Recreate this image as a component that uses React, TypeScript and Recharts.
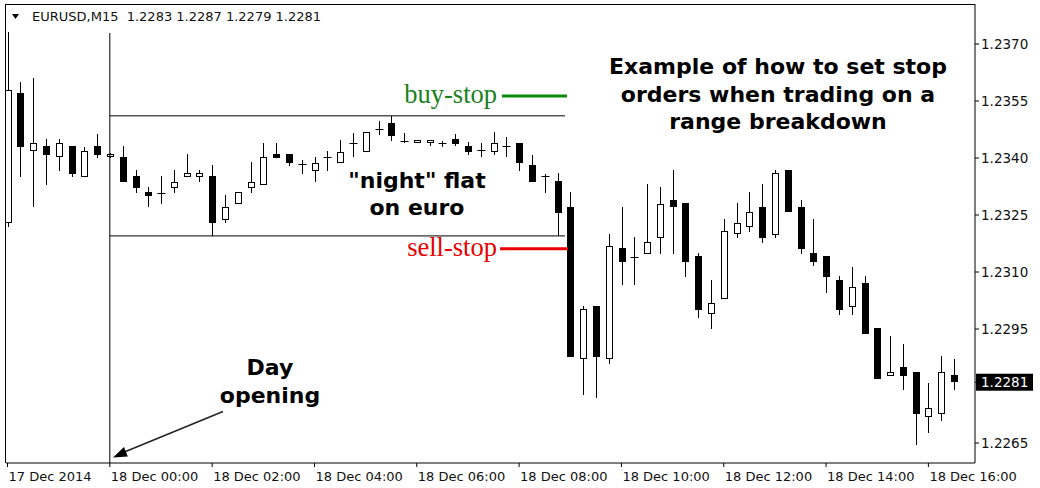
import React from "react";
import { ComposedChart, Bar, XAxis, YAxis, ReferenceLine } from "recharts";

// ---- data (EURUSD M15, 17 Dec 22:00 .. 18 Dec 16:30) ----
const opens = [
  1.23229, 1.23571, 1.23418, 1.23432, 1.23403, 1.23432, 1.2335, 1.23432,
  1.23403, 1.23403, 1.23353, 1.23311, 1.23308, 1.23321, 1.2335, 1.2335,
  1.23353, 1.23237, 1.23279, 1.23321, 1.23329, 1.23411, 1.23411, 1.23384,
  1.23366, 1.23403, 1.23387, 1.23439, 1.23416, 1.23476, 1.23492, 1.23445,
  1.23439, 1.23439, 1.23439, 1.2345, 1.23432, 1.23421, 1.23416, 1.23432,
  1.23439, 1.23382, 1.23353, 1.23339, 1.23271, 1.22871, 1.23011, 1.22871,
  1.23163, 1.23139, 1.23147, 1.23189, 1.23289, 1.23282, 1.23142, 1.22989,
  1.23029, 1.232, 1.23218, 1.23271, 1.23197, 1.23368, 1.23271, 1.2315,
  1.23142, 1.23079, 1.23008, 1.23071, 1.22953, 1.22826, 1.2285, 1.22837,
  1.22718, 1.22726, 1.2283,
];
const highs = [
  1.23732, 1.236, 1.23611, 1.2345, 1.2345, 1.23432, 1.23429, 1.23463,
  1.23413, 1.23432, 1.23368, 1.23324, 1.23353, 1.23368, 1.23411, 1.23368,
  1.23382, 1.23303, 1.23311, 1.23389, 1.23439, 1.23439, 1.23411, 1.23395,
  1.23403, 1.23418, 1.23447, 1.23466, 1.23468, 1.23497, 1.23511, 1.23466,
  1.23447, 1.23447, 1.23445, 1.23463, 1.23442, 1.23439, 1.23468, 1.23455,
  1.23439, 1.23408, 1.23358, 1.23361, 1.23311, 1.23011, 1.23011, 1.232,
  1.23271, 1.23192, 1.23332, 1.23324, 1.23368, 1.23282, 1.2315, 1.23079,
  1.23239, 1.23282, 1.23311, 1.23332, 1.23368, 1.23368, 1.23289, 1.23239,
  1.23142, 1.23089, 1.23113, 1.23089, 1.22953, 1.22932, 1.22911, 1.22837,
  1.22808, 1.22879, 1.2287,
];
const lows = [
  1.23218, 1.2335, 1.23271, 1.23329, 1.23366, 1.2335, 1.2335, 1.234,
  1.234, 1.23337, 1.23308, 1.23271, 1.23279, 1.23308, 1.2335, 1.23337,
  1.23195, 1.23229, 1.23279, 1.23308, 1.23329, 1.234, 1.23379, 1.23358,
  1.23337, 1.23366, 1.23387, 1.23403, 1.23416, 1.23461, 1.23445, 1.23439,
  1.23439, 1.23432, 1.23429, 1.23432, 1.23408, 1.23403, 1.23408, 1.23403,
  1.23366, 1.23337, 1.23308, 1.23195, 1.22876, 1.22776, 1.22768, 1.22858,
  1.23066, 1.23066, 1.23147, 1.23147, 1.23147, 1.23087, 1.22979, 1.2295,
  1.23029, 1.23189, 1.23205, 1.23176, 1.23189, 1.23258, 1.23147, 1.23116,
  1.23045, 1.22987, 1.22987, 1.22937, 1.22818, 1.22826, 1.22789, 1.22645,
  1.22676, 1.22708, 1.2279,
];
const closes = [
  1.23579, 1.23429, 1.23439, 1.23408, 1.23439, 1.23358, 1.23418, 1.23408,
  1.23411, 1.23337, 1.23321, 1.233, 1.23309, 1.23337, 1.23361, 1.23361,
  1.23229, 1.23271, 1.23311, 1.23337, 1.23403, 1.234, 1.23387, 1.23385,
  1.23387, 1.23404, 1.23416, 1.2344, 1.23468, 1.23477, 1.23458, 1.23446,
  1.23447, 1.23447, 1.2344, 1.23437, 1.23416, 1.23422, 1.23439, 1.23433,
  1.23387, 1.23337, 1.23354, 1.23255, 1.22876, 1.23003, 1.22876, 1.23168,
  1.23126, 1.2314, 1.23179, 1.23279, 1.23271, 1.23126, 1.23, 1.23018,
  1.23208, 1.23229, 1.23258, 1.23189, 1.23361, 1.23258, 1.23161, 1.23126,
  1.23087, 1.23, 1.23061, 1.22937, 1.22818, 1.22837, 1.22826, 1.22726,
  1.22742, 1.22837, 1.2281,
];

const xTickIdx = [0, 8, 16, 24, 32, 40, 48, 56, 64, 72];
const xTickLabels = [
  "17 Dec 2014",
  "18 Dec 00:00",
  "18 Dec 02:00",
  "18 Dec 04:00",
  "18 Dec 06:00",
  "18 Dec 08:00",
  "18 Dec 10:00",
  "18 Dec 12:00",
  "18 Dec 14:00",
  "18 Dec 16:00",
];
const yTicks = [1.2265, 1.2281, 1.2295, 1.231, 1.2325, 1.234, 1.2355, 1.237];
const lastPrice = 1.2281;
const headerText = "EURUSD,M15  1.2283 1.2287 1.2279 1.2281";

const dayOpenIdx = 8;
const dayLineTop = 1.23729;
const flatHigh = 1.23511;
const flatLow = 1.23195;
const flatEndIdx = 43.59;
const buyStop = 1.23563;
const sellStop = 1.23161;
const buyStopRange = [38.66, 43.75];
const sellStopRange = [38.51, 43.82];

const yDomain = [1.225974, 1.238053];
const xDomain = [-0.117, 75.645];

const data = opens.map((o, i) => ({
  i,
  o,
  h: highs[i],
  l: lows[i],
  c: closes[i],
  range: [lows[i], highs[i]],
}));

const FONT = "'DejaVu Sans', sans-serif";

const Candle = (props: any) => {
  const { x, y, width, height, payload } = props;
  if (payload == null || x == null) return null;
  const { o, h, l, c } = payload;
  const top = Math.min(y, y + height);
  const hgt = Math.abs(height);
  const k = hgt / (h - l);
  const yOf = (p: number) => top + (h - p) * k;
  const cx = Math.round(x + width / 2) + 0.5;
  const yh = Math.round(yOf(h));
  const yl = Math.round(yOf(l));
  const yo = yOf(o);
  const yc = yOf(c);
  const bTop = Math.round(Math.min(yo, yc));
  const bBot = Math.round(Math.max(yo, yc));
  const parts: any[] = [];
  parts.push(
    <line key="w" x1={cx} x2={cx} y1={yh} y2={Math.max(yl, yh + 1)} stroke="#000" strokeWidth={1} />
  );
  if (Math.abs(yo - yc) < 1.5) {
    parts.push(
      <line key="d" x1={cx - 4} x2={cx + 4} y1={Math.round(yo) + 0.5} y2={Math.round(yo) + 0.5} stroke="#000" strokeWidth={1} />
    );
  } else if (c < o) {
    parts.push(
      <rect key="b" x={cx - 3.5} y={bTop} width={7} height={Math.max(1, bBot - bTop)} fill="#000" />
    );
  } else {
    parts.push(
      <rect key="b" x={cx - 3} y={bTop + 0.5} width={6} height={Math.max(1, bBot - bTop - 1)} fill="#fff" stroke="#000" strokeWidth={1} />
    );
  }
  return <g>{parts}</g>;
};

const XTick = (props: any) => {
  const { x, y, payload } = props;
  const idx = xTickIdx.indexOf(payload.value);
  return (
    <text x={x + 1} y={y + 12} fontFamily={FONT} fontSize={13} fill="#111" textAnchor="start">
      {xTickLabels[idx]}
    </text>
  );
};

const YTick = (props: any) => {
  const { x, y, payload } = props;
  const v = payload.value;
  if (Math.abs(v - lastPrice) < 1e-7) {
    return (
      <g>
        <rect x={x - 5} y={y - 8.5} width={57} height={17} fill="#000" />
        <text x={x} y={y + 4.5} fontFamily={FONT} fontSize={13.5} fill="#fff">
          {v.toFixed(4)}
        </text>
      </g>
    );
  }
  return (
    <text x={x} y={y + 4.5} fontFamily={FONT} fontSize={13.5} fill="#111">
      {v.toFixed(4)}
    </text>
  );
};

const BOLD = { fontFamily: FONT, fontWeight: 700, fontSize: 22, fill: "#000", textAnchor: "middle" as const };
const SERIF = "'Liberation Serif', 'Times New Roman', serif";

export default function App() {
  return (
    <div style={{ position: "relative", width: 1040, height: 488, background: "#fff" }}>
      <style>{"body{margin:0;background:#fff}"}</style>
      <ComposedChart
        width={1040}
        height={488}
        data={data}
        margin={{ top: 4, right: 0, bottom: 0, left: 6 }}
      >
        <XAxis
          type="number"
          dataKey="i"
          domain={xDomain}
          allowDataOverflow
          ticks={xTickIdx}
          interval={0}
          tickSize={4}
          height={25}
          axisLine={{ stroke: "#000" }}
          tickLine={{ stroke: "#000" }}
          tick={<XTick />}
        />
        <YAxis
          orientation="right"
          type="number"
          domain={yDomain}
          allowDataOverflow
          ticks={yTicks}
          interval={0}
          tickSize={4}
          width={65}
          axisLine={{ stroke: "#000" }}
          tickLine={{ stroke: "#000" }}
          tick={<YTick />}
        />
        <ReferenceLine
          segment={[{ x: dayOpenIdx, y: dayLineTop }, { x: dayOpenIdx, y: yDomain[0] }]}
          stroke="#000"
          strokeWidth={1}
        />
        <ReferenceLine
          segment={[{ x: dayOpenIdx, y: flatHigh }, { x: flatEndIdx, y: flatHigh }]}
          stroke="#000"
          strokeWidth={1}
        />
        <ReferenceLine
          segment={[{ x: dayOpenIdx, y: flatLow }, { x: flatEndIdx, y: flatLow }]}
          stroke="#000"
          strokeWidth={1}
        />
        <ReferenceLine
          segment={[{ x: buyStopRange[0], y: buyStop }, { x: buyStopRange[1], y: buyStop }]}
          stroke="#0a8a0a"
          strokeWidth={3}
        />
        <ReferenceLine
          segment={[{ x: sellStopRange[0], y: sellStop }, { x: sellStopRange[1], y: sellStop }]}
          stroke="#e80000"
          strokeWidth={3}
        />
        <Bar dataKey="range" barSize={7} isAnimationActive={false} shape={<Candle />} />
      </ComposedChart>
      <svg
        width={1040}
        height={488}
        style={{ position: "absolute", left: 0, top: 0, pointerEvents: "none" }}
      >
        <line x1={6} x2={975} y1={4.5} y2={4.5} stroke="#000" />
        <line x1={5.5} x2={5.5} y1={4} y2={463} stroke="#000" />
        <polygon points="12,14 19,14 15.5,19" fill="#000" />
        <text x={32} y={21} fontFamily={FONT} fontSize={13} fill="#111" style={{ whiteSpace: "pre" }}>
          {headerText}
        </text>
        <text x={778} y={74} {...BOLD}>Example of how to set stop</text>
        <text x={778} y={101.5} {...BOLD}>orders when trading on a</text>
        <text x={778} y={129} {...BOLD}>range breakdown</text>
        <text x={417} y={188} {...BOLD}>"night" flat</text>
        <text x={417} y={215} {...BOLD}>on euro</text>
        <text x={270} y={375} {...BOLD}>Day</text>
        <text x={270} y={403} {...BOLD}>opening</text>
        <text x={497} y={103} fontFamily={SERIF} fontSize={26.5} fill="#1a801a" textAnchor="end">buy-stop</text>
        <text x={497} y={256} fontFamily={SERIF} fontSize={26.5} fill="#e80000" textAnchor="end">sell-stop</text>
        <line x1={223} y1={411.5} x2={122} y2={453} stroke="#222" strokeWidth={1.5} />
        <polygon points="113,457.5 127.8,456.5 124,447" fill="#000" />
      </svg>
    </div>
  );
}
